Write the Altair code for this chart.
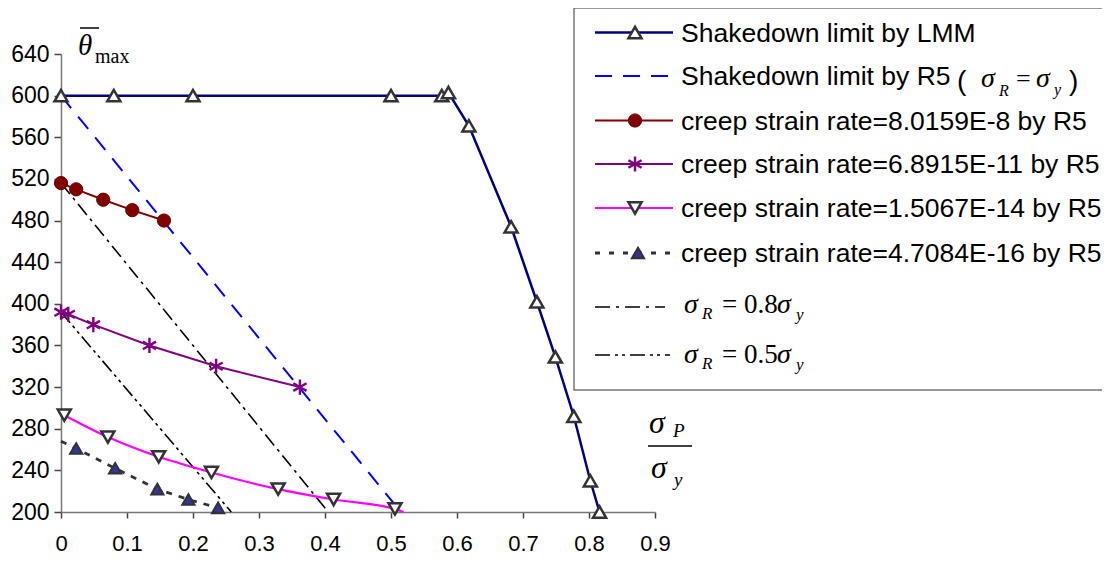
import altair as alt
import pandas as pd

# ---------------- data ----------------
lmm_x = [0, 0.08, 0.2, 0.5, 0.577, 0.587, 0.618, 0.682, 0.721, 0.749, 0.777, 0.802, 0.816]
lmm_y = [600, 600, 600, 600, 600, 603, 571, 474, 402, 349, 292, 230, 200]

r5_x = [0, 0.515]
r5_y = [600, 200]

c1_x = [0, 0.023, 0.064, 0.108, 0.156]
c1_y = [516, 510, 500, 490, 480]

c2_x = [0, 0.011, 0.049, 0.134, 0.235, 0.362]
c2_y = [392, 390, 380, 360, 340, 320]

c3_x = [0.005, 0.071, 0.148, 0.228, 0.329, 0.413, 0.506, 0.519]
c3_y = [293, 272, 253, 238, 222, 212, 203, 200]
c3_mark = [True, True, True, True, True, True, True, False]

c4_x = [0, 0.023, 0.082, 0.146, 0.193, 0.238]
c4_y = [268, 261, 242, 222, 212, 204]
c4_mark = [False, True, True, True, True, True]

s08_x = [0, 0.405]
s08_y = [516, 200]
s05_x = [0, 0.258]
s05_y = [392, 200]

x_ticks = [0, 0.1, 0.2, 0.3, 0.4, 0.5, 0.6, 0.7, 0.8, 0.9]
y_ticks = [200, 240, 280, 320, 360, 400, 440, 480, 520, 560, 600, 640]

legend_labels = [
    "Shakedown limit by LMM",
    "Shakedown limit by R5",
    "creep strain rate=8.0159E-8 by R5",
    "creep strain rate=6.8915E-11 by R5",
    "creep strain rate=1.5067E-14 by R5",
    "creep strain rate=4.7084E-16 by R5",
]

# ---------------- layout ----------------
OX, OY = 61, 54          # page position of plot origin
W, H = 594, 458

SANS = "Liberation Sans"
SERIF = "Liberation Serif"

xs = alt.Scale(domain=[0, 0.9], nice=False, zero=False)
ys = alt.Scale(domain=[200, 640], nice=False, zero=False)

x_axis = alt.Axis(values=x_ticks, format="~g", tickSize=6, labelPadding=15,
                  labelFontSize=22, labelFont=SANS, labelColor="black",
                  domainColor="#777777", tickColor="#444444", domainWidth=1.5,
                  tickWidth=1.5, grid=False, title=None, labelFlush=False)
y_axis = alt.Axis(values=y_ticks, tickSize=7, labelPadding=5,
                  labelFontSize=23, labelFont=SANS, labelColor="black",
                  domainColor="#777777", tickColor="#444444", domainWidth=1.5,
                  tickWidth=1.5, grid=False, title=None, labelFlush=False)

X = alt.X("x:Q", scale=xs, axis=x_axis)
Y = alt.Y("y:Q", scale=ys, axis=y_axis)


def df(xv, yv):
    return pd.DataFrame({"x": xv, "y": yv})


def line(d, color, width, dash=None, interp="linear"):
    kw = dict(color=color, strokeWidth=width, interpolate=interp, clip=False)
    if dash:
        kw["strokeDash"] = dash
    return alt.Chart(d).mark_line(**kw).encode(x=X, y=Y, order="x:Q")


def points(d, **kw):
    return alt.Chart(d).mark_point(opacity=1, **kw).encode(x=X, y=Y)


ASTER = "M0,-1L0,1M-0.87,-0.5L0.87,0.5M-0.87,0.5L0.87,-0.5"

d_lmm = df(lmm_x, lmm_y)
d_r5 = df(r5_x, r5_y)
d_c1 = df(c1_x, c1_y)
d_c2 = df(c2_x, c2_y)
d_c3 = df(c3_x, c3_y)
d_c3m = d_c3[c3_mark]
d_c4 = df(c4_x, c4_y)
d_c4m = d_c4[c4_mark]
d_08 = df(s08_x, s08_y)
d_05 = df(s05_x, s05_y)

tri_open = dict(filled=True, fill="white", stroke="#333333", strokeWidth=2.5, size=170)
aster = dict(shape=ASTER, filled=False, stroke="#800080", strokeWidth=2.4, size=230)

layers = [
    line(d_r5, "#0000FF", 2, [16, 11]),
    line(d_08, "black", 1.6, [14, 5, 3, 5]),
    line(d_05, "black", 1.6, [14, 4, 3, 4, 3, 4]),
    line(d_lmm, "#000080", 2.5),
    line(d_c1, "#800000", 2),
    line(d_c2, "#800080", 2),
    line(d_c3, "#FF00FF", 2.2, interp="monotone"),
    line(d_c4, "#333333", 2.8, [6, 7]),
    points(d_lmm, shape="triangle-up", **tri_open),
    points(d_c1, shape="circle", filled=True, fill="#800000", stroke="#6a0000",
           strokeWidth=1, size=175),
    points(d_c2, **aster),
    points(d_c3m, shape="triangle-down", **tri_open),
    points(d_c4m, shape="triangle-up", filled=True, fill="#333399", stroke="#333333",
           strokeWidth=2, size=150),
]

one = pd.DataFrame({"a": [0]})


def txt(s, px, py, size, font=SANS, style="normal", baseline="alphabetic", align="left"):
    return alt.Chart(one).mark_text(text=s, font=font, fontSize=size, fontStyle=style,
                                    align=align, baseline=baseline, color="black").encode(
        x=alt.value(px - OX), y=alt.value(py - OY))


def rule(x1, x2, y1, color="black", width=1.5, dash=None):
    kw = dict(color=color, strokeWidth=width)
    if dash:
        kw["strokeDash"] = dash
    return alt.Chart(one).mark_rule(**kw).encode(
        x=alt.value(x1 - OX), x2=alt.value(x2 - OX), y=alt.value(y1 - OY))


def marker(px, py, **kw):
    return alt.Chart(one).mark_point(opacity=1, **kw).encode(
        x=alt.value(px - OX), y=alt.value(py - OY))


# y-axis title: theta-bar max
layers += [
    txt("θ", 78, 55, 29, font=SERIF, style="italic"),
    rule(80, 99, 28, width=1.5),
    txt("max", 95, 63, 20, font=SERIF),
]

# x-axis title: sigma_P / sigma_y
layers += [
    txt("σ", 649, 433, 32, font=SERIF, style="italic"),
    txt("P", 673, 437, 19, font=SERIF, style="italic"),
    rule(648, 692, 446, width=1.5),
    txt("σ", 651, 478, 32, font=SERIF, style="italic"),
    txt("y", 674, 486, 19, font=SERIF, style="italic"),
]

# legend box
layers.append(
    alt.Chart(one).mark_rect(fill="white", stroke="#777777", strokeWidth=1.5).encode(
        x=alt.value(574 - OX), x2=alt.value(1200 - OX),
        y=alt.value(8 - OY), y2=alt.value(390 - OY))
)

rows = [32.5, 76, 120.5, 164, 208, 253, 307, 355]
LX1, LX2, LM = 595, 673, 635

layers += [
    rule(LX1, LX2, rows[0], "#000080", 2.5),
    marker(LM, rows[0], shape="triangle-up", **tri_open),
    rule(LX1, 668, rows[1], "#0000FF", 2.2, [17, 11]),
    rule(LX1, LX2, rows[2], "#800000", 2),
    marker(LM, rows[2], shape="circle", filled=True, fill="#800000", stroke="#6a0000",
           strokeWidth=1, size=175),
    rule(LX1, LX2, rows[3], "#800080", 2),
    marker(LM, rows[3], **aster),
    rule(LX1, LX2, rows[4], "#FF00FF", 2.2),
    marker(LM, rows[4], shape="triangle-down", **tri_open),
    rule(LX1, LX2, rows[5], "#333333", 2.8, [5, 9]),
    marker(638, rows[5], shape="triangle-up", filled=True, fill="#333399", stroke="#333333",
           strokeWidth=2, size=150),
    rule(LX1, 665, rows[6], "black", 1.6, [15, 6, 3, 6]),
    rule(LX1, 670, rows[7], "black", 1.6, [15, 5, 3, 4, 3, 5]),
]

for i, lab in enumerate(legend_labels):
    layers.append(txt(lab, 681, rows[i] + 1, 26.5, baseline="middle"))

# math parts of legend row 2
b2 = 87
layers += [
    txt("(", 957, b2 + 3, 28),
    txt("σ", 981, b2, 28, font=SERIF, style="italic"),
    txt("R", 999, b2 + 9, 16, font=SERIF, style="italic"),
    txt("=", 1016, b2, 26, font=SERIF),
    txt("σ", 1036, b2, 28, font=SERIF, style="italic"),
    txt("y", 1054, b2 + 8, 16, font=SERIF, style="italic"),
    txt(")", 1069, b2 + 3, 28),
]

# legend rows 7 and 8: sigma_R = 0.8 sigma_y, sigma_R = 0.5 sigma_y
for base, val in [(313, "0.8"), (363, "0.5")]:
    layers += [
        txt("σ", 684, base, 28, font=SERIF, style="italic"),
        txt("R", 702, base + 6, 17, font=SERIF, style="italic"),
        txt("= " + val, 722, base, 27, font=SERIF),
        txt("σ", 777, base, 28, font=SERIF, style="italic"),
        txt("y", 796, base + 7, 17, font=SERIF, style="italic"),
    ]

chart = alt.layer(*layers).properties(
    width=W, height=H,
    padding={"left": OX - 8, "top": OY - 8, "right": 1094 - (OX - 8) - W,
             "bottom": 547 - (OY - 8) - H},
    autosize=alt.AutoSizeParams(type="none"),
    background="white",
).configure_view(stroke=None)

chart.save("out.html", embed_options={"renderer": "svg", "actions": False})
